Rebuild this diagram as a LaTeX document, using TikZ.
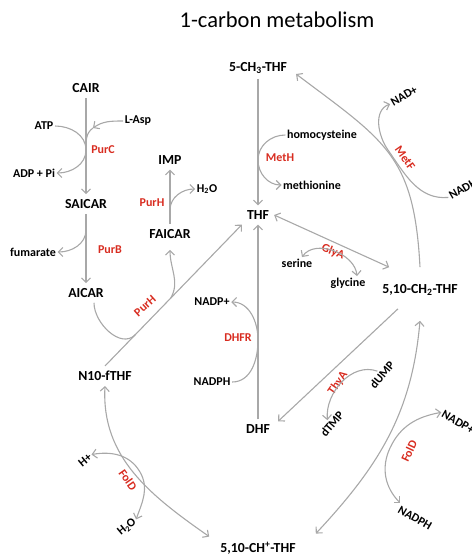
\documentclass[tikz,border=0pt]{standalone}
\usepackage{fontspec}
\setmainfont{Carlito}
\usetikzlibrary{arrows.meta,calc}
\definecolor{linegray}{RGB}{168,168,168}
\definecolor{enzred}{RGB}{216,44,32}

\begin{document}
\begin{tikzpicture}[x=1pt, y=1pt,
    met/.style={font=\bfseries\fontsize{13.8}{15}\selectfont, inner sep=5pt},
    cof/.style={font=\bfseries\fontsize{12}{14}\selectfont, inner sep=1.5pt},
    enz/.style={font=\bfseries\fontsize{12}{14}\selectfont, text=enzred, inner sep=1.5pt},
    flux/.style={draw=linegray, line width=1.1pt, -{Straight Barb[length=4.5pt,width=9pt]}},
    bflux/.style={flux, {Straight Barb[length=4.5pt,width=9pt]}-{Straight Barb[length=4.5pt,width=9pt]}},
    link/.style={draw=linegray, line width=1.1pt}]
    \useasboundingbox (0,0) rectangle (472,-558);
    \node[font=\fontsize{22.5}{26}\selectfont] (title) at (277,-20) {1-carbon metabolism};

    % purine branch
    \node[met] (cair) at (86,-88) {CAIR};
    \node[cof] (atp) at (44,-126) {ATP};
    \node[cof] (lasp) at (138,-121) {L-Asp};
    \node[enz] (purc) at (103,-150) {PurC};
    \node[cof] (adppi) at (34,-173) {ADP + Pi};
    \node[met] (saicar) at (86,-204) {SAICAR};
    \node[cof] (fumarate) at (33,-252) {fumarate};
    \node[enz] (purb) at (110,-250) {PurB};
    \node[met] (aicar) at (86,-293) {AICAR};
    \node[met] (imp) at (170,-160) {IMP};
    \node[cof] (h2oa) at (207,-189) {H\textsubscript{2}O};
    \node[enz] (purha) at (152,-203) {PurH};
    \node[met] (faicar) at (170,-234) {FAICAR};
    \node[enz, rotate=42] (purhb) at (145,-306) {PurH};
    \node[met] (nfthf) at (105,-376) {N10-fTHF};

    % folate cycle
    \node[met] (mthf) at (258,-68) {5-CH\textsubscript{3}-THF};
    \node[cof] (homocys) at (322,-135) {homocysteine};
    \node[enz] (meth) at (280,-158) {MetH};
    \node[cof] (methionine) at (312,-185) {methionine};
    \node[met] (thf) at (258,-215) {THF};
    \node[cof, rotate=30] (nadplus) at (404,-96) {NAD+};
    \node[enz, rotate=-55] (metf) at (405,-158) {MetF};
    \node[cof, rotate=30] (nadh) at (463,-189) {NADH};
    \node[enz, rotate=-22] (glya) at (333,-252) {GlyA};
    \node[cof] (serine) at (297,-263) {serine};
    \node[cof] (glycine) at (348,-283) {glycine};
    \node[met] (ch2thf) at (420,-290) {5,10-CH\textsubscript{2}-THF};
    \node[cof] (nadpa) at (212,-302) {NADP+};
    \node[enz] (dhfr) at (238,-338) {DHFR};
    \node[cof] (nadpha) at (212,-382) {NADPH};
    \node[met] (dhf) at (258,-429) {DHF};
    \node[enz, rotate=55] (thya) at (338,-383) {ThyA};
    \node[cof, rotate=50] (dump) at (382,-375) {dUMP};
    \node[cof, rotate=50] (dtmp) at (332,-424) {dTMP};
    \node[cof, rotate=-30] (nadpb) at (458,-422) {NADP+};
    \node[enz, rotate=65] (foldb) at (409,-451) {FolD};
    \node[cof, rotate=-30] (nadphb) at (415,-518) {NADPH};
    \node[met] (chthf) at (258,-548) {5,10-CH\textsuperscript{+}-THF};
    \node[cof, rotate=40] (hplus) at (85,-460) {H+};
    \node[enz, rotate=-55] (folda) at (128,-480) {FolD};
    \node[cof, rotate=40] (h2ob) at (127,-527) {H\textsubscript{2}O};

    % junctions
    \coordinate (jpc) at (86,-150);
    \coordinate (laspt) at (93,-128);
    \coordinate (jpb) at (86,-230);
    \coordinate (jph) at (170,-210);
    \coordinate (jmet) at (258,-160);
    \coordinate (jmf) at (388,-150);
    \coordinate (jdh) at (258,-340);
    \coordinate (jfa) at (140,-472);
    \coordinate (jfb) at (390,-448);

    % purine steps
    \draw[flux] (cair) -- (saicar);
    \draw[flux] (atp.east) to[out=0,in=90] (jpc) to[out=-90,in=0] (adppi.east);
    \draw[flux] (lasp.west) to[out=180,in=35] (laspt);
    \draw[link] (laspt) to[out=215,in=90] (jpc);
    \draw[flux] (saicar) -- (aicar);
    \draw[flux] (jpb) to[out=-90,in=0] (fumarate.east);
    \draw[flux] (faicar) -- (imp);
    \draw[flux] (jph) to[out=90,in=180] (h2oa.west);
    \draw[flux] (nfthf.north) -- (thf.south west)
        coordinate[pos=0.22] (jaic) coordinate[pos=0.48] (jfai);
    \draw[link] ([xshift=8pt]aicar.south) to[out=-90,in=225] (jaic);
    \draw[flux] (jfai) to[out=60,in=-90] ([yshift=-6pt]faicar.south);

    % folate steps
    \draw[flux] (mthf) -- (thf);
    \draw[flux] (homocys.west) to[out=180,in=90] (jmet) to[out=-90,in=180] (methionine.west);
    \draw[flux, looseness=1.25] ([yshift=12pt]ch2thf.north) to[out=93,in=-37] ([xshift=4pt,yshift=-6pt]mthf.east);
    \draw[flux] (nadh.west) to[out=185,in=-55] (jmf) to[out=125,in=200] (nadplus.west);
    \draw[bflux] (thf.east) -- ([xshift=12pt,yshift=12pt]ch2thf.north west);
    \draw[bflux] ([xshift=5pt]serine.north) to[out=55,in=95] ([xshift=9pt]glycine.north);
    \draw[flux] ([xshift=-22pt,yshift=-8pt]ch2thf.south) -- ([xshift=3pt,yshift=-2pt]dhf.north east);
    \draw[flux] (dump.north) to[out=160,in=95] (dtmp.north);
    \draw[flux] (dhf) -- (thf);
    \draw[flux] (nadpha.east) to[out=0,in=-90] (jdh) to[out=90,in=0] (nadpa.east);
    \draw[bflux] (nfthf.south) to[out=-93,in=145] ([xshift=-6pt]chthf.north west);
    \draw[bflux] (hplus.east) to[out=10,in=120] (jfa) to[out=-60,in=70] (h2ob.east);
    \draw[bflux] ([yshift=-20pt]ch2thf.south) to[out=-95,in=47] ([xshift=15pt,yshift=3pt]chthf.north east);
    \draw[bflux] (nadpb.west) to[out=190,in=65] (jfb) to[out=-115,in=135] (nadphb.north west);
\end{tikzpicture}
\end{document}
